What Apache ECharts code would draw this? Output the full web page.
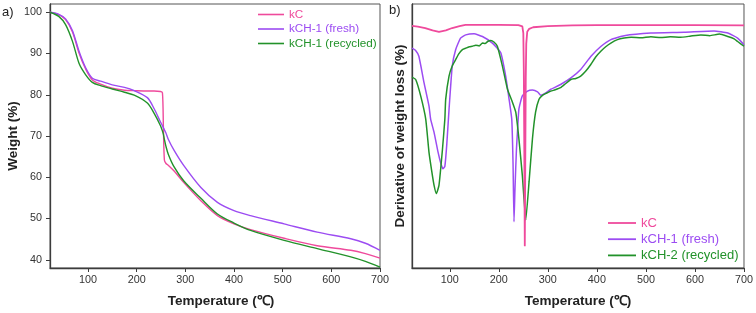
<!DOCTYPE html>
<html>
<head>
<meta charset="utf-8">
<script src="https://cdn.jsdelivr.net/npm/echarts@6/dist/echarts.min.js"></script>
<style>
html,body{margin:0;padding:0;background:#fff;}
#chart{width:756px;height:313px;}
</style>
</head>
<body>
<div id="chart"></div>
<script>
// ---- Panel a) TGA ----
var tgaTemp = [22, 40, 54, 68, 82, 95, 109, 126, 150, 175, 195, 222, 236, 249, 253, 255, 257, 260, 265, 277, 297, 332, 366, 400, 434, 503, 571, 640, 670, 700];
var tgaKC      = [100, 99.4, 98.2, 95.3, 90.0, 86.3, 83.6, 82.6, 81.6, 81.1, 81.0, 80.9, 80.9, 80.8, 80.5, 72.0, 64.2, 63.4, 62.9, 61.5, 58.7, 54.3, 50.7, 48.7, 47.3, 45.2, 43.4, 42.3, 41.5, 40.4];
var tgaFresh   = [100, 99.5, 98.4, 95.6, 90.4, 86.6, 84.0, 83.3, 82.4, 81.8, 81.0, 79.3, 76.6, 73.4, 72.5, 72.0, 71.5, 70.8, 69.2, 66.5, 62.8, 57.5, 53.9, 51.9, 50.7, 48.7, 46.7, 45.1, 44.0, 42.3];
var tgaRecycled= [100, 99.0, 97.0, 93.0, 87.5, 84.9, 83.0, 82.2, 81.4, 80.6, 79.9, 78.0, 75.5, 72.5, 71.2, 70.4, 69.2, 67.6, 65.6, 62.5, 59.1, 54.9, 51.1, 48.9, 47.1, 44.7, 42.7, 40.7, 39.6, 38.2];
var tgaYTicks = [40, 50, 60, 70, 80, 90, 100];

// ---- Panel b) DTG ----
var dtgTempKC = [23, 35, 50, 65, 78, 92, 105, 120, 132, 160, 200, 240, 248, 250, 251, 252, 253, 254, 255, 256, 258, 262, 270, 300, 350, 400, 500, 600, 700];
var dtgKC     = [91.7, 91.4, 90.9, 90.0, 89.4, 90.0, 90.9, 91.6, 92.1, 92.1, 92.1, 92.0, 91.5, 89.0, 75.0, 45.0, 8.2, 40.0, 72.0, 85.0, 89.5, 90.6, 91.2, 91.6, 91.9, 92.0, 92.0, 92.0, 91.9];

var dtgTempFresh = [23, 30, 37, 47.5, 57.6, 61, 68, 76, 82, 86, 90, 94, 98.5, 105, 112, 122, 132.5, 149.5, 166.6, 187, 204, 214, 221, 226.4, 229, 231, 233, 236, 238, 241, 248, 258.5, 268.6, 279, 285.6, 295, 306, 326, 347, 367, 388, 408, 428.5, 455.6, 510, 578, 639, 667, 687, 700];
var dtgFresh     = [83.3, 82.5, 80.2, 70.2, 61.4, 56.4, 51.4, 44.0, 39.5, 37.6, 38.5, 47.0, 60.0, 76.4, 82.7, 87.1, 88.3, 88.7, 87.7, 85.2, 81.5, 72.7, 63.9, 56.4, 40.0, 17.5, 30.0, 45.0, 51.4, 60.2, 65.2, 67.0, 67.4, 66.7, 65.4, 66.2, 67.7, 69.5, 72.0, 75.2, 80.2, 83.9, 86.5, 88.0, 89.0, 89.3, 89.8, 89.0, 87.1, 84.6];

var dtgTempRec = [23, 30.5, 40.7, 51, 57.6, 63, 68, 72.7, 78, 85, 90, 91.7, 98.5, 105, 112, 118, 125.8, 133, 140, 146, 153, 160, 166.6, 172, 178, 183.6, 190, 197, 207.5, 217.7, 228, 234.6, 241, 248, 255, 261.7, 268.6, 275, 282, 289, 297, 306, 315, 326, 336, 347, 357, 367, 377, 387.6, 398, 408, 418, 428.5, 442, 455.6, 470, 490, 510, 530, 550, 570, 590, 612, 630, 650, 667, 680, 687, 700];
var dtgRec     = [72.3, 71.4, 65.2, 56.4, 43.9, 37.0, 31.3, 28.2, 31.3, 44.7, 56.4, 63.9, 72.7, 76.5, 78.9, 81.0, 82.7, 83.3, 83.8, 84.0, 84.4, 84.1, 85.2, 85.0, 85.9, 86.2, 85.6, 84.0, 76.4, 67.7, 62.7, 59.0, 48.9, 35.1, 18.2, 32.6, 48.9, 59.0, 63.9, 65.4, 66.2, 67.0, 67.5, 68.3, 69.8, 71.4, 71.8, 72.7, 74.5, 77.1, 80.0, 82.1, 83.8, 85.2, 86.5, 87.1, 87.4, 87.2, 87.6, 87.3, 87.6, 87.4, 87.8, 88.3, 88.0, 88.6, 87.7, 86.8, 85.8, 84.0];

var xTicks = [100, 200, 300, 400, 500, 600, 700];

var PINK = '#ef4a9c', PURPLE = '#9c4cf2', GREEN = '#22922a';
var FONT = '"Liberation Sans", Arial, sans-serif';
var AX = '#3c3c3c';

function pairs(xs, ys) { return xs.map(function (x, i) { return [x, ys[i]]; }); }

function lineSeries(name, color, xi, yi, xs, ys, w, sm) {
  return {
    type: 'line', name: name, xAxisIndex: xi, yAxisIndex: yi,
    data: pairs(xs, ys), showSymbol: false, symbol: 'none',
    smooth: sm || 0,
    lineStyle: { color: color, width: w || 1.4 }, itemStyle: { color: color },
    animation: false
  };
}

function xAxisCfg(gi, min, padLeft) {
  return {
    type: 'value', gridIndex: gi, min: min, max: 700,
    name: 'Temperature (\u2103)', nameLocation: 'middle', nameGap: 26,
    nameTextStyle: { fontFamily: FONT, fontSize: 13.5, fontWeight: 'bold', color: '#222', padding: [0, 0, 0, padLeft] },
    axisLine: { show: true, lineStyle: { color: AX, width: 1.3 } },
    axisTick: { show: true, inside: false, length: 4, customValues: xTicks, lineStyle: { color: AX } },
    axisLabel: { customValues: xTicks, margin: 7, fontFamily: FONT, fontSize: 10.8, color: '#333' },
    splitLine: { show: false }
  };
}

var chart = echarts.init(document.getElementById('chart'), null, { renderer: 'canvas' });
chart.setOption({
  backgroundColor: '#fff',
  animation: false,
  grid: [
    { left: 50, top: 4, width: 330, height: 265, show: true, borderColor: '#555', borderWidth: 1, containLabel: false },
    { left: 412, top: 4, width: 332, height: 266, show: true, borderColor: '#555', borderWidth: 1, containLabel: false }
  ],
  xAxis: [xAxisCfg(0, 22, 12), xAxisCfg(1, 23, 0)],
  yAxis: [
    {
      type: 'value', gridIndex: 0, min: 38, max: 102,
      name: 'Weight (%)', nameLocation: 'middle', nameGap: 25,
      nameTextStyle: { fontFamily: FONT, fontSize: 13.5, fontWeight: 'bold', color: '#222' },
      axisLine: { show: true, lineStyle: { color: AX, width: 1.3 } },
      axisTick: { show: true, inside: false, length: 4, customValues: tgaYTicks, lineStyle: { color: AX } },
      axisLabel: { customValues: tgaYTicks, margin: 8, fontFamily: FONT, fontSize: 10.8, color: '#333' },
      splitLine: { show: false }
    },
    {
      type: 'value', gridIndex: 1, min: 0, max: 100,
      name: 'Derivative of weight loss (%)', nameLocation: 'middle', nameGap: 5,
      nameTextStyle: { fontFamily: FONT, fontSize: 13.5, fontWeight: 'bold', color: '#222' },
      axisLine: { show: true, lineStyle: { color: AX, width: 1.3 } },
      axisTick: { show: false },
      axisLabel: { show: false },
      splitLine: { show: false }
    }
  ],
  legend: [
    {
      left: 258, top: 8.5, padding: 0, orient: 'vertical', icon: 'rect', itemWidth: 26, itemHeight: 1.6, itemGap: 2.5,
      textStyle: { fontFamily: FONT, fontSize: 11.7, lineHeight: 12 },
      data: [
        { name: 'kC', textStyle: { color: PINK } },
        { name: 'kCH-1 (fresh)', textStyle: { color: PURPLE } },
        { name: 'kCH-1 (recycled)', textStyle: { color: GREEN } }
      ]
    },
    {
      left: 608, top: 216.5, padding: 0, orient: 'vertical', icon: 'rect', itemWidth: 28, itemHeight: 1.8, itemGap: 3.2,
      textStyle: { fontFamily: FONT, fontSize: 13, lineHeight: 13 },
      data: [
        { name: 'kC', textStyle: { color: PINK } },
        { name: 'kCH-1 (fresh)', textStyle: { color: PURPLE } },
        { name: 'kCH-2 (recycled)', textStyle: { color: GREEN } }
      ]
    }
  ],
  graphic: [
    { type: 'text', left: 2, top: 6, style: { text: 'a)', fontFamily: FONT, fontSize: 13, fill: '#222' } },
    { type: 'text', left: 389, top: 4, style: { text: 'b)', fontFamily: FONT, fontSize: 13, fill: '#222' } }
  ],
  series: [
    lineSeries('kC', PINK, 0, 0, tgaTemp, tgaKC, 1.4, 0.3),
    lineSeries('kCH-1 (fresh)', PURPLE, 0, 0, tgaTemp, tgaFresh, 1.4, 0.3),
    lineSeries('kCH-1 (recycled)', GREEN, 0, 0, tgaTemp, tgaRecycled, 1.4, 0.3),
    lineSeries('kCH-1 (fresh)', PURPLE, 1, 1, dtgTempFresh, dtgFresh, 1.5, 0.15),
    lineSeries('kCH-2 (recycled)', GREEN, 1, 1, dtgTempRec, dtgRec, 1.5, 0.15),
    lineSeries('kC', PINK, 1, 1, dtgTempKC, dtgKC, 1.8, 0)
  ]
});
</script>
</body>
</html>
